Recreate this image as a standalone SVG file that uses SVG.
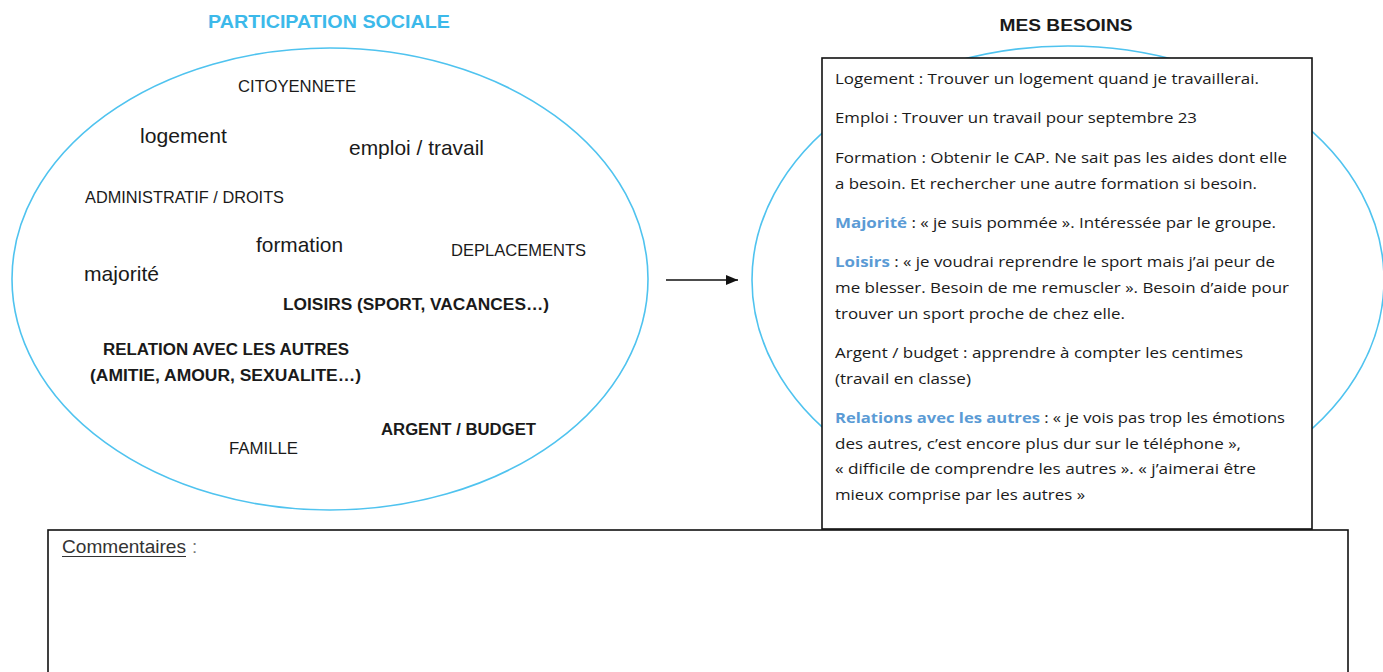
<svg xmlns="http://www.w3.org/2000/svg" width="1383" height="672" viewBox="0 0 1383 672">
<style>
.ell{fill:none;stroke:#4fc3ef;stroke-width:1.6}
.t{font-family:"Liberation Sans",Arial,sans-serif;fill:#1a1a1a}
.cap{font-size:16.5px}
.low{font-size:21px}
.b{font-weight:bold;font-size:16px}
.bx{font-family:"Open Sans","Liberation Sans",sans-serif;font-size:15px;fill:#1a1a1a}
.hl{fill:#5b9bd5;font-weight:bold}
.frame{fill:#fff;stroke:#111;stroke-width:1.6}
</style>
<defs>
<marker id="ah" viewBox="0 0 12 10" refX="12" refY="5" markerWidth="12" markerHeight="10" markerUnits="userSpaceOnUse" orient="auto">
<path d="M0,0 L12,5 L0,10 z" fill="#111"/>
</marker>
</defs>
<rect width="1383" height="672" fill="#fff"/>

<g id="participation">
<text class="t" x="329" y="28" text-anchor="middle" font-weight="bold" font-size="18" style="fill:#3cb9ea" textLength="242" lengthAdjust="spacingAndGlyphs">PARTICIPATION SOCIALE</text>
<ellipse class="ell" cx="330" cy="279" rx="318" ry="231"/>
<text class="t cap" x="238" y="92" textLength="118" lengthAdjust="spacingAndGlyphs">CITOYENNETE</text>
<text class="t low" x="140" y="143" textLength="87" lengthAdjust="spacingAndGlyphs">logement</text>
<text class="t low" x="349" y="155" textLength="135" lengthAdjust="spacingAndGlyphs">emploi / travail</text>
<text class="t cap" x="85" y="203" textLength="199" lengthAdjust="spacingAndGlyphs">ADMINISTRATIF / DROITS</text>
<text class="t low" x="256" y="252" textLength="87" lengthAdjust="spacingAndGlyphs">formation</text>
<text class="t cap" x="451" y="256" textLength="135" lengthAdjust="spacingAndGlyphs">DEPLACEMENTS</text>
<text class="t low" x="84" y="281" textLength="75" lengthAdjust="spacingAndGlyphs">majorité</text>
<text class="t b" x="283" y="310" textLength="266" lengthAdjust="spacingAndGlyphs">LOISIRS (SPORT, VACANCES…)</text>
<text class="t b" x="103" y="355" textLength="246" lengthAdjust="spacingAndGlyphs">RELATION AVEC LES AUTRES</text>
<text class="t b" x="90" y="381" textLength="271" lengthAdjust="spacingAndGlyphs">(AMITIE, AMOUR, SEXUALITE…)</text>
<text class="t b" x="381" y="435" textLength="155" lengthAdjust="spacingAndGlyphs">ARGENT / BUDGET</text>
<text class="t cap" x="229" y="454" textLength="69" lengthAdjust="spacingAndGlyphs">FAMILLE</text>
</g>

<g id="connectors">
<line x1="666" y1="280" x2="738" y2="280" stroke="#111" stroke-width="1.6" marker-end="url(#ah)"/>
</g>

<g id="besoins">
<text class="t" x="1066" y="31" text-anchor="middle" font-weight="bold" font-size="17" textLength="133" lengthAdjust="spacingAndGlyphs">MES BESOINS</text>
<ellipse class="ell" cx="1068" cy="280" rx="316" ry="234"/>
<rect class="frame" x="822" y="58" width="490" height="471"/>
<text class="bx" x="835" y="84" textLength="424" lengthAdjust="spacingAndGlyphs">Logement : Trouver un logement quand je travaillerai.</text>
<text class="bx" x="835" y="123" textLength="362" lengthAdjust="spacingAndGlyphs">Emploi : Trouver un travail pour septembre 23</text>
<text class="bx" x="835" y="163" textLength="452" lengthAdjust="spacingAndGlyphs">Formation : Obtenir le CAP. Ne sait pas les aides dont elle</text>
<text class="bx" x="835" y="189" textLength="422" lengthAdjust="spacingAndGlyphs">a besoin. Et rechercher une autre formation si besoin.</text>
<text class="bx" x="835" y="228" textLength="441" lengthAdjust="spacingAndGlyphs"><tspan class="hl">Majorité</tspan> : « je suis pommée ». Intéressée par le groupe.</text>
<text class="bx" x="835" y="267" textLength="440" lengthAdjust="spacingAndGlyphs"><tspan class="hl">Loisirs</tspan> : « je voudrai reprendre le sport mais j’ai peur de</text>
<text class="bx" x="835" y="293" textLength="454" lengthAdjust="spacingAndGlyphs">me blesser. Besoin de me remuscler ». Besoin d’aide pour</text>
<text class="bx" x="835" y="319" textLength="290" lengthAdjust="spacingAndGlyphs">trouver un sport proche de chez elle.</text>
<text class="bx" x="835" y="358" textLength="408" lengthAdjust="spacingAndGlyphs">Argent / budget : apprendre à compter les centimes</text>
<text class="bx" x="835" y="384" textLength="136" lengthAdjust="spacingAndGlyphs">(travail en classe)</text>
<text class="bx" x="835" y="423" textLength="450" lengthAdjust="spacingAndGlyphs"><tspan class="hl">Relations avec les autres</tspan> : « je vois pas trop les émotions</text>
<text class="bx" x="835" y="449" textLength="406" lengthAdjust="spacingAndGlyphs">des autres, c’est encore plus dur sur le téléphone »,</text>
<text class="bx" x="835" y="474" textLength="421" lengthAdjust="spacingAndGlyphs">« difficile de comprendre les autres ». « j’aimerai être</text>
<text class="bx" x="835" y="500" textLength="250" lengthAdjust="spacingAndGlyphs">mieux comprise par les autres »</text>
</g>

<g id="commentaires">
<rect class="frame" x="48" y="530" width="1300" height="160" stroke="#333"/>
<text class="t" x="62" y="553" font-size="18.5" style="fill:#333"><tspan textLength="124" lengthAdjust="spacingAndGlyphs">Commentaires</tspan><tspan x="192" style="fill:#777">:</tspan></text>
<line x1="62" y1="556.5" x2="186" y2="556.5" stroke="#333" stroke-width="1.2"/>
</g>
</svg>
